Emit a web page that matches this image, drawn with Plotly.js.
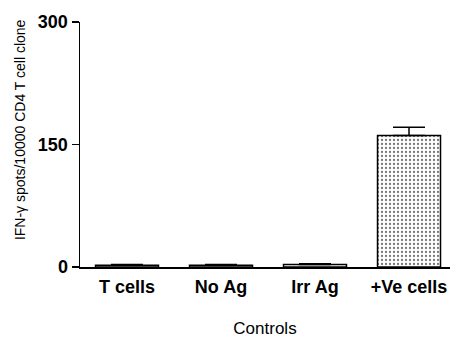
<!DOCTYPE html>
<html><head><meta charset="utf-8">
<script src="https://cdn.plot.ly/plotly-3.0.1.min.js"></script>
<style>body{margin:0;background:#fff}#c{width:450px;height:338px}</style>
</head><body><div id="c"></div>
<script>
var categories = ["T cells", "No Ag", "Irr Ag", "+Ve cells"];
var means = [2, 2, 3, 161];
var errors = [1, 1, 1, 10];
var yTicks = [0, 150, 300];
var yTitle = "IFN-γ spots/10000 CD4 T cell clone";

var trace = {
  type: "bar",
  x: categories,
  y: means,
  width: 0.67,
  error_y: {type: "data", array: errors, symmetric: false, arrayminus: [0,0,0,0], visible: true, color: "#000", thickness: 1.5, width: 16},
  marker: {
    color: "#fff",
    line: {color: "#000", width: 1.5},
    pattern: {shape: ".", fgcolor: "#777", bgcolor: "#fff", size: 4, solidity: 0.25}
  },
  hoverinfo: "none"
};

var layout = {
  width: 450, height: 338,
  margin: {l: 80, r: 0, t: 22, b: 71},
  paper_bgcolor: "#fff", plot_bgcolor: "#fff",
  showlegend: false,
  font: {family: "Liberation Sans, Arial, sans-serif", color: "#000"},
  xaxis: {
    type: "category",
    range: [-0.5, 3.436],
    showline: true, linecolor: "#000", linewidth: 1.5,
    ticks: "", showgrid: false, zeroline: false,
    ticklabelstandoff: 3,
    tickfont: {size: 18, weight: "bold"},
    title: {text: "Controls", font: {size: 17}, standoff: 31}
  },
  yaxis: {
    range: [0, 300],
    tickvals: yTicks,
    ticktext: yTicks.map(String),
    showline: true, linecolor: "#000", linewidth: 1.5,
    ticks: "outside", ticklen: 7, tickwidth: 1.5, tickcolor: "#000",
    showgrid: false, zeroline: false,
    tickfont: {size: 18, weight: "bold"}
  },
  annotations: [{
    text: yTitle, textangle: -90, showarrow: false,
    xref: "paper", yref: "paper", x: -0.162, y: 0.559,
    xanchor: "center", yanchor: "middle",
    font: {size: 14}
  }]
};

Plotly.newPlot("c", [trace], layout, {displayModeBar: false, staticPlot: true});
</script></body></html>
